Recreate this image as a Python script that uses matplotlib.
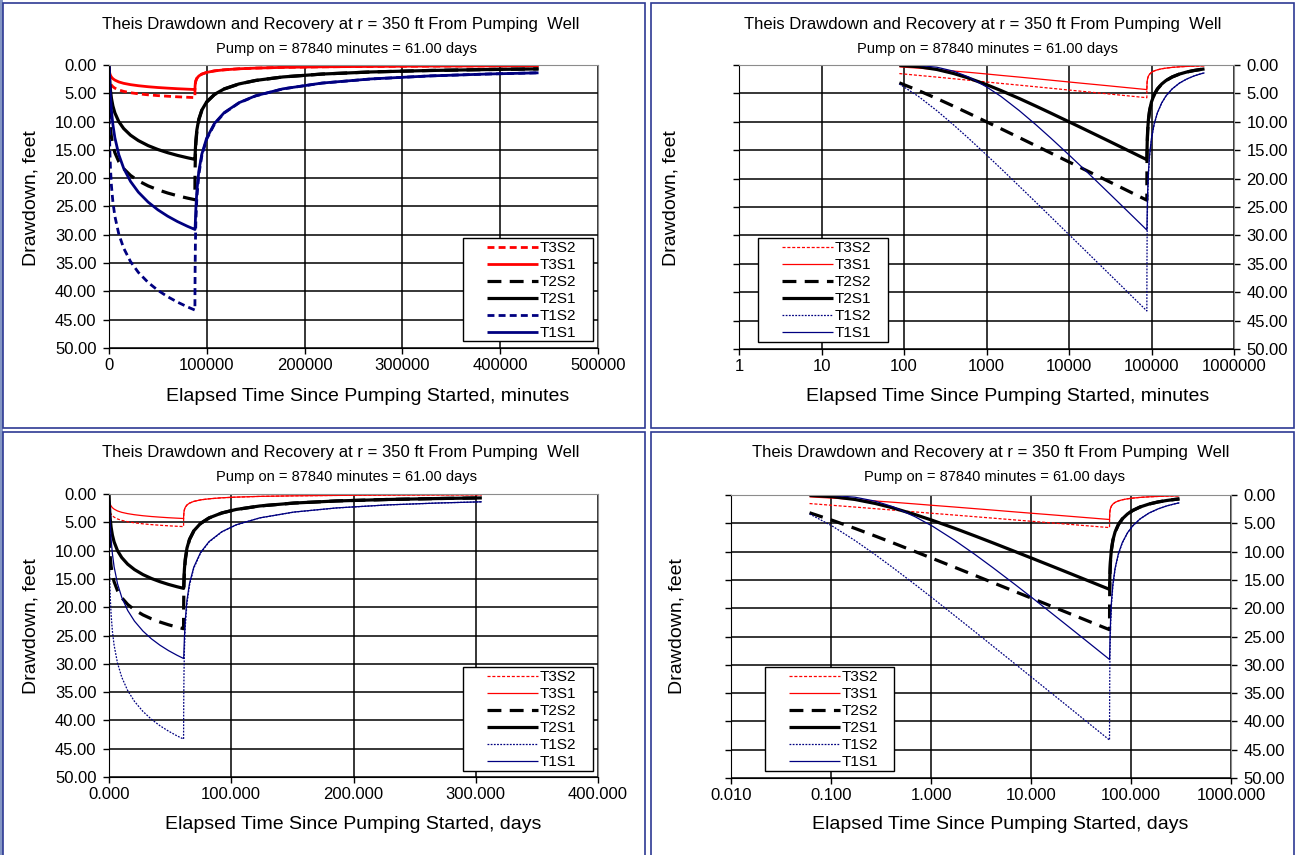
import matplotlib
matplotlib.use('agg')
import matplotlib.pyplot as plt
from matplotlib.patches import Rectangle
from matplotlib.ticker import FixedLocator, FixedFormatter, NullLocator

plt.rcParams['font.family'] = ['Liberation Sans', 'DejaVu Sans']
plt.rcParams['lines.scale_dashes'] = False

# elapsed time, minutes (pumping phase, then recovery after 87840 min)
pump_minutes = [87.84, 150, 250, 400, 600, 1000, 1500, 2500, 4000, 6000, 10000, 15000,
                22000, 30000, 40000, 50000, 60000, 70000, 80000, 87840]
recovery_minutes = [87928, 88040, 88340, 88840, 89840, 91840, 94840, 99840, 107840, 117840,
                    132840, 149840, 177840, 217840, 267840, 327840, 387840, 439200]

# drawdown, feet
t3s2_pump = [1.51, 1.83, 2.13, 2.42, 2.67, 2.99, 3.24, 3.55, 3.84, 4.09, 4.41, 4.66, 4.90, 5.09, 5.27, 5.41, 5.52, 5.62, 5.70, 5.76]
t3s2_rec = [4.25, 3.76, 3.20, 2.78, 2.36, 1.94, 1.62, 1.31, 1.04, 0.85, 0.67, 0.55, 0.42, 0.32, 0.25, 0.19, 0.16, 0.14]
t3s1_pump = [0.33, 0.55, 0.80, 1.06, 1.28, 1.58, 1.83, 2.13, 2.42, 2.67, 2.99, 3.24, 3.47, 3.66, 3.84, 3.98, 4.09, 4.19, 4.27, 4.33]
t3s1_rec = [4.00, 3.64, 3.15, 2.75, 2.35, 1.94, 1.61, 1.31, 1.04, 0.85, 0.67, 0.55, 0.42, 0.32, 0.25, 0.19, 0.16, 0.14]
t2s2_pump = [3.14, 4.50, 5.90, 7.26, 8.46, 10.00, 11.23, 12.79, 14.24, 15.49, 17.07, 18.32, 19.51, 20.47, 21.36, 22.05, 22.62, 23.10, 23.51, 23.80]
t2s2_rec = [20.66, 18.53, 15.90, 13.84, 11.76, 9.70, 8.07, 6.56, 5.22, 4.24, 3.36, 2.74, 2.11, 1.60, 1.23, 0.97, 0.80, 0.69]
t2s1_pump = [0.07, 0.30, 0.79, 1.50, 2.28, 3.46, 4.50, 5.90, 7.26, 8.46, 10.00, 11.23, 12.40, 13.35, 14.24, 14.93, 15.49, 15.97, 16.38, 16.67]
t2s1_rec = [16.60, 16.13, 14.76, 13.25, 11.46, 9.55, 7.99, 6.52, 5.19, 4.22, 3.35, 2.73, 2.11, 1.60, 1.23, 0.97, 0.80, 0.69]
t1s2_pump = [3.34, 5.54, 8.04, 10.56, 12.85, 15.83, 18.25, 21.35, 24.22, 26.71, 29.86, 32.36, 34.73, 36.64, 38.42, 39.81, 40.94, 41.89, 42.72, 43.30]
t1s2_rec = [39.96, 36.41, 31.53, 27.54, 23.46, 19.37, 16.12, 13.12, 10.44, 8.48, 6.71, 5.47, 4.22, 3.20, 2.47, 1.93, 1.59, 1.38]
t1s1_pump = [0.01, 0.08, 0.39, 1.09, 2.08, 3.85, 5.54, 8.04, 10.56, 12.85, 15.83, 18.25, 20.57, 22.46, 24.22, 25.59, 26.71, 27.66, 28.48, 29.06]
t1s1_rec = [29.06, 28.86, 27.51, 25.28, 22.28, 18.77, 15.79, 12.93, 10.33, 8.41, 6.67, 5.44, 4.21, 3.19, 2.46, 1.93, 1.59, 1.38]

labels = ["T3S2", "T3S1", "T2S2", "T2S1", "T1S2", "T1S1"]
values = [t3s2_pump + t3s2_rec, t3s1_pump + t3s1_rec, t2s2_pump + t2s2_rec,
          t2s1_pump + t2s1_rec, t1s2_pump + t1s2_rec, t1s1_pump + t1s1_rec]

elapsed_minutes = pump_minutes + recovery_minutes
elapsed_days = [m / 1440 for m in elapsed_minutes]

y_ticks = [0, 5, 10, 15, 20, 25, 30, 35, 40, 45, 50]
y_ticklabels = ["0.00", "5.00", "10.00", "15.00", "20.00", "25.00", "30.00", "35.00", "40.00", "45.00", "50.00"]
min_lin_ticks = [0, 100000, 200000, 300000, 400000, 500000]
min_lin_labels = ["0", "100000", "200000", "300000", "400000", "500000"]
min_log_ticks = [1, 10, 100, 1000, 10000, 100000, 1000000]
min_log_labels = ["1", "10", "100", "1000", "10000", "100000", "1000000"]
day_lin_ticks = [0, 100, 200, 300, 400]
day_lin_labels = ["0.000", "100.000", "200.000", "300.000", "400.000"]
day_log_ticks = [0.01, 0.1, 1, 10, 100, 1000]
day_log_labels = ["0.010", "0.100", "1.000", "10.000", "100.000", "1000.000"]

title = "Theis Drawdown and Recovery at r = 350 ft From Pumping  Well"
subtitle = "Pump on = 87840 minutes = 61.00 days"

red, navy = "#FF0000", "#000080"
thick_styles = [
    dict(color=red, lw=2.0, dashes=(5, 3)),
    dict(color=red, lw=2.0),
    dict(color="black", lw=2.3, dashes=(10, 6)),
    dict(color="black", lw=2.3),
    dict(color=navy, lw=2.0, dashes=(5, 3)),
    dict(color=navy, lw=2.0),
]
thin_styles = [
    dict(color=red, lw=0.9, dashes=(2.2, 1.3)),
    dict(color=red, lw=0.9),
    dict(color="black", lw=2.3, dashes=(10, 6)),
    dict(color="black", lw=2.3),
    dict(color=navy, lw=0.9, dashes=(1.3, 1.0)),
    dict(color=navy, lw=0.9),
]

W, H = 1297, 855
fig = plt.figure(figsize=(W / 100, H / 100), dpi=100)


def rect(x0, y0, x1, y1):
    return [x0 / W, 1 - y1 / H, (x1 - x0) / W, (y1 - y0) / H]


# panel frames
fig.add_artist(Rectangle((0, 0), 3 / W, 1, transform=fig.transFigure, facecolor="#8496C4", edgecolor="none"))
for (x0, y0, x1, y1) in [(3, 3, 645, 428), (651, 3, 1294, 428), (3, 432, 645, 858), (651, 432, 1294, 858)]:
    fig.add_artist(Rectangle((x0 / W, 1 - y1 / H), (x1 - x0) / W, (y1 - y0) / H, transform=fig.transFigure,
                             facecolor="none", edgecolor="#2E3A94", lw=1.2))

panels = [
    dict(box=(109, 65, 598, 348), log=False, days=False, styles=thick_styles, leg=(463, 238, 593, 341),
         top=0, tx=341, sx=346, lx=368, yx=31, unit="minutes"),
    dict(box=(739, 65, 1234, 349), log=True, days=False, styles=thin_styles, leg=(758, 238, 888, 342),
         top=0, tx=983, sx=988, lx=1008, yx=671, unit="minutes"),
    dict(box=(109, 494, 598, 777), log=False, days=True, styles=thin_styles, leg=(463, 667, 593, 771),
         top=428, tx=341, sx=346, lx=353, yx=31, unit="days"),
    dict(box=(731, 495, 1231, 778), log=True, days=True, styles=thin_styles, leg=(765, 667, 894, 771),
         top=428, tx=991, sx=994, lx=1000, yx=677, unit="days"),
]

for p in panels:
    ax = fig.add_axes(rect(*p["box"]))
    x = elapsed_days if p["days"] else elapsed_minutes
    for lab, vals, st in zip(labels, values, p["styles"]):
        ax.plot(x, vals, label=lab, solid_capstyle="butt", **st)

    if p["log"]:
        ax.set_xscale("log")
        ticks, tlabels = (day_log_ticks, day_log_labels) if p["days"] else (min_log_ticks, min_log_labels)
    else:
        ticks, tlabels = (day_lin_ticks, day_lin_labels) if p["days"] else (min_lin_ticks, min_lin_labels)
    ax.set_xlim(ticks[0], ticks[-1])
    ax.xaxis.set_major_locator(FixedLocator(ticks))
    ax.xaxis.set_major_formatter(FixedFormatter(tlabels))
    ax.xaxis.set_minor_locator(NullLocator())
    ax.set_ylim(50, 0)
    ax.yaxis.set_major_locator(FixedLocator(y_ticks))
    ax.yaxis.set_major_formatter(FixedFormatter(y_ticklabels))

    ax.set_axisbelow(True)
    ax.grid(True, color="black", lw=1.1)
    ax.tick_params(direction="out", length=4, width=1, labelsize=12, colors="black")
    ax.tick_params(axis="y", pad=5)
    if p["log"]:
        ax.tick_params(axis="y", left=True, right=True, labelleft=False, labelright=True)
    for s in ["top", "right"]:
        ax.spines[s].set_color("#8C8C8C")

    # legend box
    lx0, ly0, lx1, ly1 = p["leg"]
    ax.add_artist(Rectangle((lx0 / W, 1 - ly1 / H), (lx1 - lx0) / W, (ly1 - ly0) / H,
                            transform=fig.transFigure, facecolor="white", edgecolor="black",
                            lw=1.0, zorder=4, clip_on=False))
    ax.legend(loc="upper left", bbox_to_anchor=((lx0 + 15) / W, 1 - (ly0 - 6) / H),
              bbox_transform=fig.transFigure, frameon=False, fontsize=11, borderpad=0.1,
              handlelength=3.3, handletextpad=0.15, labelspacing=0.2)

    top = p["top"]
    fig.text(p["tx"] / W, 1 - (top + 24) / H, title, ha="center", va="center", fontsize=12)
    fig.text(p["sx"] / W, 1 - (top + 49) / H, subtitle, ha="center", va="center", fontsize=10.5)
    fig.text(p["lx"] / W, 1 - (top + 396) / H, "Elapsed Time Since Pumping Started, " + p["unit"],
             ha="center", va="center", fontsize=14)
    fig.text(p["yx"] / W, 1 - (top + 198) / H, "Drawdown, feet", ha="center", va="center",
             rotation=90, fontsize=14)

fig.savefig("out.png", dpi=100)
